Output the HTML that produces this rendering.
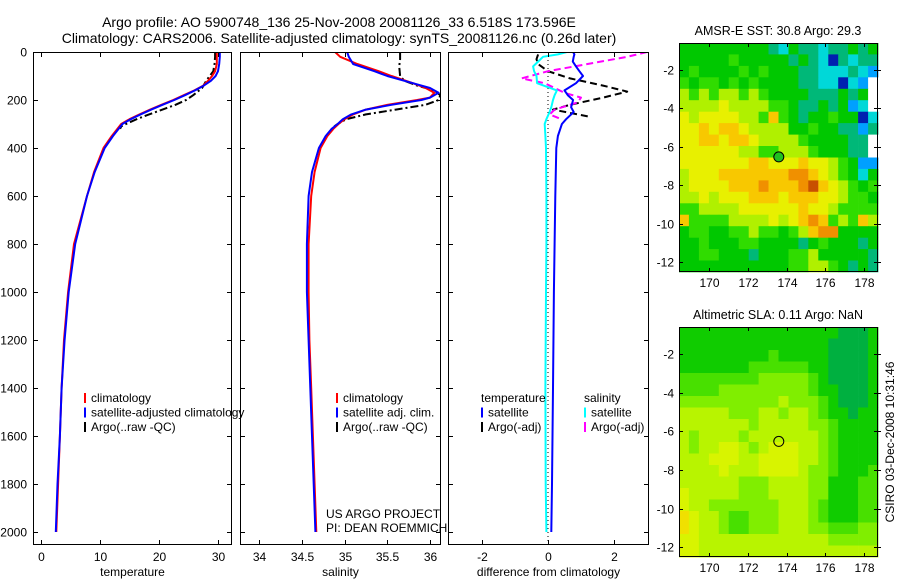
<!DOCTYPE html>
<html><head><meta charset="utf-8"><style>
body{margin:0;background:#fff;}
svg{display:block;font-family:"Liberation Sans",sans-serif;}
text{font-size:12px;fill:#000;}
</style></head><body>
<svg id="fig" width="900" height="580" viewBox="0 0 900 580">
<text x="339" y="27" text-anchor="middle" style="font-size:14px">Argo profile: AO 5900748_136 25-Nov-2008 20081126_33 6.518S 173.596E</text>
<text x="339" y="43" text-anchor="middle" style="font-size:14px">Climatology: CARS2006. Satellite-adjusted climatology: synTS_20081126.nc (0.26d later)</text>
</svg>
<script>
// ---------- data ----------
const depthTemp = [0,20,50,80,100,120,140,160,180,200,220,240,260,280,300,350,400,500,600,800,1000,1200,1400,1600,1800,2000];
const tempClim = [29.8,29.8,29.8,29.5,29.0,28.3,27.5,26.0,24.2,22.4,20.4,18.5,16.7,15.0,13.6,12.0,10.6,9.0,7.8,5.6,4.6,3.9,3.5,3.2,2.9,2.6];
const tempSat  = [30.3,30.3,30.2,30.0,29.6,28.8,27.6,26.1,24.4,22.6,20.6,18.7,16.9,15.2,13.8,12.2,10.8,9.1,7.8,5.8,4.7,4.0,3.5,3.2,2.8,2.5];
const depthArgo = [0,20,50,80,100,120,150,180,200,220,240,260,280,300,310,320];
const tempArgo = [29.5,29.5,29.4,29.2,28.6,28.0,27.3,25.8,24.6,22.8,20.6,18.3,16.2,14.4,13.6,13.4];
const depthSal = [0,20,50,80,100,130,150,170,190,200,220,240,260,280,300,320,350,400,500,600,800,1000,1200,1400,1600,1800,2000];
const salClim = [34.89,34.95,35.15,35.40,35.55,35.80,35.95,36.05,36.00,35.85,35.50,35.25,35.10,35.00,34.93,34.87,34.80,34.72,34.65,34.61,34.58,34.58,34.59,34.61,34.63,34.65,34.67];
const salSat  = [35.03,35.05,35.10,35.35,35.50,35.80,36.00,36.10,36.00,35.90,35.55,35.25,35.08,34.98,34.92,34.85,34.78,34.70,34.62,34.58,34.56,34.56,34.58,34.60,34.62,34.64,34.66];
const depthSalArgo = [0,30,60,100,120,140,160,180,200,220,240,260,280,300,310];
const salArgo = [35.65,35.65,35.64,35.65,35.70,35.85,36.05,36.12,36.10,35.95,35.60,35.25,35.02,34.92,34.88];
const depthDiff = [0,10,20,40,60,80,100,130,160,180,200,230,250,280,300,350,400,600,800,1000,1400,1800,2000];
const diffTempSat = [0.76,0.80,0.78,0.75,0.85,0.95,1.06,0.85,0.5,0.6,0.76,0.70,0.78,0.55,0.42,0.30,0.25,0.22,0.20,0.18,0.15,0.12,0.10];
const diffSalSat  = [0.57,0.30,-0.15,-0.30,-0.45,-0.42,-0.35,-0.33,0.27,0.20,0.15,0.10,0.05,-0.05,-0.10,-0.08,-0.06,-0.05,-0.05,-0.06,-0.08,-0.07,-0.05];
const depthDiffArgoT = [10,30,50,80,110,140,165,190,220,240,270];
const diffTempArgo = [-0.3,-0.35,-0.3,0.0,0.67,1.67,2.4,1.67,0.67,0.15,1.27];
const depthDiffArgoS = [0,20,50,80,110,130,170,190,210,240,260,280];
const diffSalArgo = [3.0,2.4,1.2,0.0,-0.8,-0.1,0.5,1.0,0.9,0.2,0.05,0.4];
// SST map colour index grid (20 x 20, north to south, west to east)
const sstGrid = [
[4,4,4,4,4,4,4,4,4,3,2,4,3,3,2,3,3,4,3,4],
[4,4,4,4,4,5,4,4,4,4,4,3,4,3,2,0,3,2,3,3],
[4,5,4,4,4,4,5,4,5,4,4,4,3,3,2,2,2,3,2,1],
[5,4,5,5,4,5,4,5,4,4,4,4,3,3,2,2,0,2,1,-1],
[6,5,6,5,6,6,5,6,5,4,4,4,4,3,3,3,4,3,4,-1],
[6,6,6,6,7,6,6,6,6,5,5,4,3,3,4,3,4,1,2,-1],
[7,6,7,7,7,7,6,6,5,8,5,4,3,4,4,5,4,4,0,2],
[7,7,8,7,8,8,7,6,6,6,6,4,4,5,4,4,3,3,1,3],
[7,7,8,8,7,8,8,7,6,6,6,6,5,4,4,4,4,3,3,-1],
[7,7,7,7,7,7,6,6,5,5,6,6,6,5,4,4,4,3,3,-1],
[7,7,7,7,7,7,7,8,8,7,7,7,8,7,7,6,5,4,1,1],
[6,7,7,7,8,8,8,8,8,8,8,9,9,8,7,6,5,4,2,4],
[6,7,7,7,7,8,8,8,9,8,8,8,9,10,8,7,6,5,4,5],
[6,6,7,6,7,7,7,8,8,8,7,8,8,8,7,7,6,5,5,4],
[5,5,6,6,6,6,7,7,7,7,7,7,8,7,7,6,5,5,5,5],
[8,5,5,5,5,6,6,6,6,7,6,7,8,9,8,5,6,5,8,6],
[4,5,5,4,4,5,5,6,5,5,4,5,6,8,9,9,4,4,4,4],
[4,4,5,4,4,4,5,5,4,4,4,4,3,4,5,4,4,4,3,4],
[4,4,5,5,4,4,4,3,4,4,4,5,5,6,4,4,4,4,4,3],
[4,4,4,4,4,4,4,4,4,4,4,5,5,6,6,5,4,3,4,3]];
const slaGrid = [
[4,4,4,4,4,4,4,4,4,4,4,4,4,4,4,4,3,3,3,4],
[4,4,4,4,4,4,4,4,4,4,4,4,4,4,4,3,3,3,3,4],
[4,4,4,4,4,4,4,4,4,5,4,4,4,4,4,3,3,3,3,4],
[4,4,4,4,4,4,4,5,5,5,5,5,5,4,4,3,3,3,3,4],
[5,5,5,5,5,5,5,5,6,6,6,6,6,5,4,3,3,3,3,4],
[5,5,5,5,6,6,6,6,6,6,6,6,6,5,4,4,3,3,3,4],
[6,6,6,6,6,6,6,6,6,6,7,6,6,6,5,4,3,3,3,4],
[7,7,7,7,7,6,6,6,7,7,6,7,7,6,5,4,4,3,4,4],
[7,7,7,7,7,7,7,6,7,7,7,7,7,6,6,5,4,4,4,4],
[7,6,7,7,7,7,6,7,7,7,7,7,7,7,6,5,4,4,4,4],
[7,6,7,7,8,8,7,6,7,8,8,8,7,7,6,5,4,4,4,4],
[7,7,7,8,8,8,7,7,8,8,8,8,7,7,6,5,4,4,4,4],
[7,7,7,7,8,7,7,7,8,8,8,8,7,6,6,5,4,4,4,5],
[7,7,7,7,7,7,6,6,6,7,7,7,7,6,6,4,4,4,5,5],
[8,7,7,7,7,7,6,6,6,7,7,7,7,6,6,4,4,4,5,5],
[8,7,7,6,6,6,6,6,6,6,7,7,7,6,5,4,4,4,5,5],
[9,8,7,7,6,5,5,6,6,6,7,7,7,6,5,4,4,4,5,5],
[9,8,7,7,6,5,5,6,6,6,7,7,7,6,6,5,5,5,6,6],
[8,8,7,7,7,7,7,7,7,7,7,7,7,7,7,6,6,6,6,6],
[8,8,7,7,7,7,7,7,7,7,7,7,7,7,7,7,7,7,7,7]];
const depthTicks = [0,200,400,600,800,1000,1200,1400,1600,1800,2000];
const tempTicks = [0,10,20,30];
const salTicks = [34,34.5,35,35.5,36];
const diffTicks = [-2,0,2];
const lonTicks = [170,172,174,176,178];
const latTicks = [-2,-4,-6,-8,-10,-12];
const floatLon = 173.6, floatLat = -6.52;

// ---------- helpers ----------
const NS='http://www.w3.org/2000/svg';
const svg=document.getElementById('fig');
function mk(tag,attrs,parent){const e=document.createElementNS(NS,tag);for(const k in attrs)e.setAttribute(k,attrs[k]);(parent||svg).appendChild(e);return e;}
function lin(d0,d1,r0,r1){return v=>r0+(v-d0)*(r1-r0)/(d1-d0);}
const yDepth=lin(0,2000,52,532);
const panelTop=52, panelBot=545;

function panel(name,x0,x1,xs,ticks,fmt,xlabel,showY){
  const g=mk('g',{});
  
  
  const cp=mk('clipPath',{id:'c-'+name},g);
  mk('rect',{x:x0,y:panelTop,width:x1-x0,height:panelBot-panelTop},cp);
  const plot=mk('g',{'clip-path':'url(#c-'+name+')'},g);
  const fr=mk('rect',{x:x0+0.5,y:panelTop+0.5,width:x1-x0-1,height:panelBot-panelTop-1,fill:'none',stroke:'#000','stroke-width':1},g);
  
  
  depthTicks.forEach(d=>{const y=Math.round(yDepth(d))+0.5;
    mk('line',{x1:x0,x2:x0+5,y1:y,y2:y,stroke:'#000'},g);
    mk('line',{x1:x1-5,x2:x1,y1:y,y2:y,stroke:'#000'},g);
    if(showY){const t=mk('text',{x:x0-6,y:y+4,'text-anchor':'end'},g);t.textContent=d;
      
      }
  });
  ticks.forEach(v=>{const x=Math.round(xs(v))+0.5;
    mk('line',{x1:x,x2:x,y1:panelBot-5,y2:panelBot,stroke:'#000'},g);
    mk('line',{x1:x,x2:x,y1:panelTop,y2:panelTop+5,stroke:'#000'},g);
    const t=mk('text',{x:x,y:561,'text-anchor':'middle'},g);t.textContent=fmt(v);
    
    
  });
  const xl=mk('text',{x:(x0+x1)/2,y:576,'text-anchor':'middle'},g);xl.textContent=xlabel;
  
  
  return plot;
}
function line(parent,xs,xv,dv,color,w,dash,name){
  const d=xv.map((v,i)=>(i?'L':'M')+xs(v).toFixed(1)+','+yDepth(dv[i]).toFixed(1)).join('');
  const p=mk('path',{d:d,fill:'none',stroke:color,'stroke-width':w,'stroke-linejoin':'round'},parent);
  if(dash)p.setAttribute('stroke-dasharray',dash);
  
  
}
function legend(x,y,items){
  items.forEach((it,i)=>{const yy=y+i*14.5;
    if(it.c){const m=mk('rect',{x:x,y:yy-9,width:2,height:10,fill:it.c});
      
      }
    const t=mk('text',{x:x+(it.c?7:0),y:yy});t.textContent=it.t;
    
    
  });
}

// ---------- temperature panel ----------
const xT=lin(0,30,41,218);
let p=panel('temperature-panel',33,232,xT,tempTicks,v=>v,'temperature',true);
line(p,xT,tempArgo,depthArgo,'#000',2,'8,3,2,3','temp-argo-line');
line(p,xT,tempClim,depthTemp,'#f00',2,null,'temp-climatology-line');
line(p,xT,tempSat,depthTemp,'#00f',2,null,'temp-satellite-line');
legend(84,402,[{c:'#f00',t:'climatology'},{c:'#00f',t:'satellite-adjusted climatology'},{c:'#000',t:'Argo(..raw -QC)'}]);

// ---------- salinity panel ----------
const xS=lin(34,36,259,430);
p=panel('salinity-panel',240,441,xS,salTicks,v=>v,'salinity',false);
line(p,xS,salArgo,depthSalArgo,'#000',2,'8,3,2,3','sal-argo-line');
line(p,xS,salClim,depthSal,'#f00',2,null,'sal-climatology-line');
line(p,xS,salSat,depthSal,'#00f',2,null,'sal-satellite-line');
legend(336,402,[{c:'#f00',t:'climatology'},{c:'#00f',t:'satellite adj. clim.'},{c:'#000',t:'Argo(..raw -QC)'}]);
let t=mk('text',{x:326,y:518});t.textContent='US ARGO PROJECT';


t=mk('text',{x:326,y:532});t.textContent='PI: DEAN ROEMMICH';



// ---------- difference panel ----------
const xD=lin(-2,2,482,614);
p=panel('difference-panel',448,649,xD,diffTicks,v=>v,'difference from climatology',false);
const zl=mk('line',{x1:xD(0),x2:xD(0),y1:panelTop,y2:panelBot,stroke:'#000','stroke-dasharray':'1,3'},p);


line(p,xD,diffTempArgo,depthDiffArgoT,'#000',2,'7,4','diff-temp-argo-line');
line(p,xD,diffSalArgo,depthDiffArgoS,'#f0f',2,'7,4','diff-sal-argo-line');
line(p,xD,diffTempSat,depthDiff,'#00f',2,null,'diff-temp-satellite-line');
line(p,xD,diffSalSat,depthDiff,'#0ff',2,null,'diff-sal-satellite-line');
legend(481,402,[{t:'temperature'},{c:'#00f',t:'satellite'},{c:'#000',t:'Argo(-adj)'}]);
legend(584,402,[{t:'salinity'},{c:'#0ff',t:'satellite'},{c:'#f0f',t:'Argo(-adj)'}]);

// ---------- maps ----------
const sstColors={'-1':'#ffffff',0:'#0020b0',1:'#00a0ff',2:'#00d8d8',3:'#00b878',4:'#00c800',5:'#30dc00',6:'#b0f000',7:'#e8f000',8:'#f8c800',9:'#f09000',10:'#c85000'};
const slaColors={3:'#00b040',4:'#10cc00',5:'#48e000',6:'#80ee00',7:'#b8f400',8:'#d8f400',9:'#f0e000'};
function mapPanel(name,top,bot,grid,colors,title,filled){
  const x0=679,x1=878;
  const lon0=168.45,lon1=178.72,lat0=-0.6,lat1=-12.5;
  const xs=lin(lon0,lon1,x0,x1), ys=lin(lat0,lat1,top,bot);
  const g=mk('g',{});
  
  
  const nr=grid.length,nc=grid[0].length;
  const dLon=(lon1-lon0)/nc,dLat=(lat1-lat0)/nr;
  grid.forEach((row,r)=>row.forEach((v,c)=>{
    const xa=xs(lon0+c*dLon),xb=xs(lon0+(c+1)*dLon),ya=ys(lat0+r*dLat),yb=ys(lat0+(r+1)*dLat);
    const cell=mk('rect',{x:xa.toFixed(1),y:ya.toFixed(1),width:(xb-xa+0.4).toFixed(1),height:(yb-ya+0.4).toFixed(1),fill:colors[v]},g);
    
    
  }));
  const fr=mk('rect',{x:x0+0.5,y:top+0.5,width:x1-x0-1,height:bot-top-1,fill:'none',stroke:'#000'},g);
  
  
  lonTicks.forEach(v=>{const x=Math.round(xs(v))+0.5;
    mk('line',{x1:x,x2:x,y1:top,y2:top+4,stroke:'#000'},g);
    mk('line',{x1:x,x2:x,y1:bot-4,y2:bot,stroke:'#000'},g);
    const tt=mk('text',{x:x,y:bot+15,'text-anchor':'middle'},g);tt.textContent=v;
    
    });
  latTicks.forEach(v=>{const y=Math.round(ys(v))+0.5;
    mk('line',{x1:x0,x2:x0+4,y1:y,y2:y,stroke:'#000'},g);
    mk('line',{x1:x1-4,x2:x1+3,y1:y,y2:y,stroke:'#000'},g);
    const tt=mk('text',{x:x0-5,y:y+4,'text-anchor':'end'},g);tt.textContent=v;
    
    });
  const c=mk('circle',{cx:xs(floatLon),cy:ys(floatLat),r:5,fill:filled?'#20c020':'none',stroke:'#000'},g);
  
  
  const tl=mk('text',{x:778,y:top-8,'text-anchor':'middle',style:'font-size:12.5px'},g);tl.textContent=title;
  
  
}
mapPanel('sst-map',43,272,sstGrid,sstColors,'AMSR-E SST: 30.8 Argo: 29.3',true);
mapPanel('sla-map',327,557,slaGrid,slaColors,'Altimetric SLA: 0.11 Argo: NaN',false);
t=mk('text',{x:0,y:0,transform:'translate(894,442) rotate(-90)','text-anchor':'middle'});
t.textContent='CSIRO 03-Dec-2008 10:31:46';


</script>
</body></html>
